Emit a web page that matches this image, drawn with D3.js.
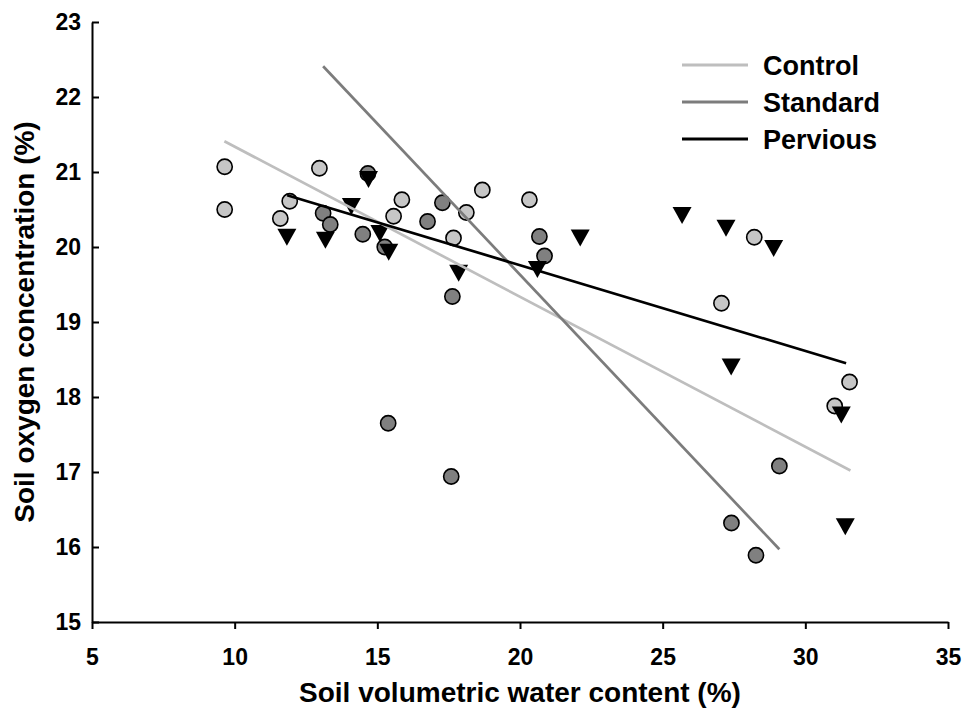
<!DOCTYPE html>
<html>
<head>
<meta charset="utf-8">
<script src="https://cdn.jsdelivr.net/npm/d3@7"></script>
<style>
  html, body { margin: 0; padding: 0; background: #fff; }
  svg text { font-family: "Liberation Sans", Arial, sans-serif; font-weight: bold; fill: #000; }
</style>
</head>
<body>
<svg id="chart" width="966" height="708"></svg>
<script>
// Soil volumetric water content (%) vs soil oxygen concentration (%)
const controlX  = [9.65, 9.65, 12.97, 11.93, 11.60, 15.86, 15.57, 18.12, 18.68, 20.33, 17.67, 28.21, 27.06, 31.55, 31.03];
const controlY  = [21.07, 20.50, 21.05, 20.61, 20.38, 20.63, 20.41, 20.46, 20.76, 20.63, 20.12, 20.13, 19.25, 18.20, 17.88];

const standardX = [14.67, 13.10, 13.35, 14.49, 15.26, 16.76, 17.28, 20.68, 20.86, 17.63, 15.38, 17.59, 29.09, 27.41, 28.27];
const standardY = [20.98, 20.45, 20.30, 20.17, 20.00, 20.34, 20.59, 20.14, 19.88, 19.34, 17.65, 16.94, 17.08, 16.32, 15.89];

const perviousX = [14.69, 11.83, 13.18, 14.09, 15.09, 15.40, 17.85, 20.61, 22.11, 25.68, 27.22, 28.89, 27.40, 31.26, 31.40];
const perviousY = [20.90, 20.13, 20.09, 20.54, 20.18, 19.93, 19.65, 19.70, 20.12, 20.42, 20.25, 19.98, 18.40, 17.76, 16.27];

// Fitted regression lines (end points in data units)
const controlFitX  = [9.64, 31.58];
const controlFitY  = [21.41, 17.02];
const standardFitX = [13.10, 29.09];
const standardFitY = [22.41, 15.97];
const perviousFitX = [11.84, 31.43];
const perviousFitY = [20.69, 18.45];

const xTicks = [5, 10, 15, 20, 25, 30, 35];
const yTicks = [15, 16, 17, 18, 19, 20, 21, 22, 23];

const seriesNames = ["Control", "Standard", "Pervious"];
const lineColors  = ["#bebebe", "#7c7c7c", "#000000"];
const pointFills  = ["#c6c6c6", "#808080", "#000000"];

const xLabel = "Soil volumetric water content (%)";
const yLabel = "Soil oxygen concentration (%)";

const svg = d3.select("#chart");
const margin = { left: 92, right: 18, top: 22, bottom: 86 };
const W = 966, H = 708;

const x = d3.scaleLinear().domain([5, 35]).range([margin.left, W - margin.right]);
const y = d3.scaleLinear().domain([15, 23]).range([H - margin.bottom, margin.top]);

// Axes
const xAxis = d3.axisBottom(x).tickValues(xTicks).tickFormat(d3.format("d"))
  .tickSizeInner(7).tickSizeOuter(0).tickPadding(20);
const yAxis = d3.axisLeft(y).tickValues(yTicks).tickFormat(d3.format("d"))
  .tickSizeInner(-7).tickSizeOuter(0).tickPadding(11);

const gx = svg.append("g").attr("transform", `translate(0,${y(15)})`).call(xAxis);
const gy = svg.append("g").attr("transform", `translate(${x(5)},0)`).call(yAxis);

[gx, gy].forEach(g => {
  g.select(".domain").attr("stroke", "#000").attr("stroke-width", 2);
  g.selectAll(".tick line").attr("stroke", "#000").attr("stroke-width", 2);
  g.selectAll(".tick text").style("font-size", "23px").attr("fill", "#000");
});

// Axis titles
svg.append("text")
  .attr("x", (x(5) + x(35)) / 2).attr("y", 702)
  .attr("text-anchor", "middle").style("font-size", "28px")
  .text(xLabel);

svg.append("text")
  .attr("transform", `translate(34,${(y(15) + y(23)) / 2}) rotate(-90)`)
  .attr("text-anchor", "middle").style("font-size", "28px")
  .text(yLabel);

// Points
const toPts = (xs, ys) => xs.map((v, i) => ({ x: v, y: ys[i] }));

const plot = svg.append("g");

function circles(data, fill) {
  plot.append("g").selectAll("circle").data(data).join("circle")
    .attr("cx", d => x(d.x)).attr("cy", d => y(d.y)).attr("r", 7.6)
    .attr("fill", fill).attr("stroke", "#000").attr("stroke-width", 1.6);
}
circles(toPts(controlX, controlY), pointFills[0]);
circles(toPts(standardX, standardY), pointFills[1]);

const triW = 19, triH = 17;
plot.append("g").selectAll("path").data(toPts(perviousX, perviousY)).join("path")
  .attr("d", d => {
    const cx = x(d.x), cy = y(d.y);
    return `M${cx - triW / 2},${cy - triH / 2}L${cx + triW / 2},${cy - triH / 2}L${cx},${cy + triH / 2}Z`;
  })
  .attr("fill", pointFills[2]);

// Regression lines
const line = d3.line().x(d => x(d.x)).y(d => y(d.y));
const fits = [
  toPts(controlFitX, controlFitY),
  toPts(standardFitX, standardFitY),
  toPts(perviousFitX, perviousFitY)
];
fits.forEach((f, i) => {
  plot.append("path").datum(f).attr("d", line)
    .attr("fill", "none").attr("stroke", lineColors[i]).attr("stroke-width", 2.7);
});

// Legend
const legend = svg.append("g").attr("transform", "translate(682,65)");
seriesNames.forEach((name, i) => {
  const row = legend.append("g").attr("transform", `translate(0,${i * 37})`);
  row.append("line").attr("x1", 0).attr("x2", 66).attr("y1", 0).attr("y2", 0)
    .attr("stroke", lineColors[i]).attr("stroke-width", 3);
  row.append("text").attr("x", 81).attr("y", 0).attr("dy", "0.36em")
    .style("font-size", "27px").text(name);
});
</script>
</body>
</html>
